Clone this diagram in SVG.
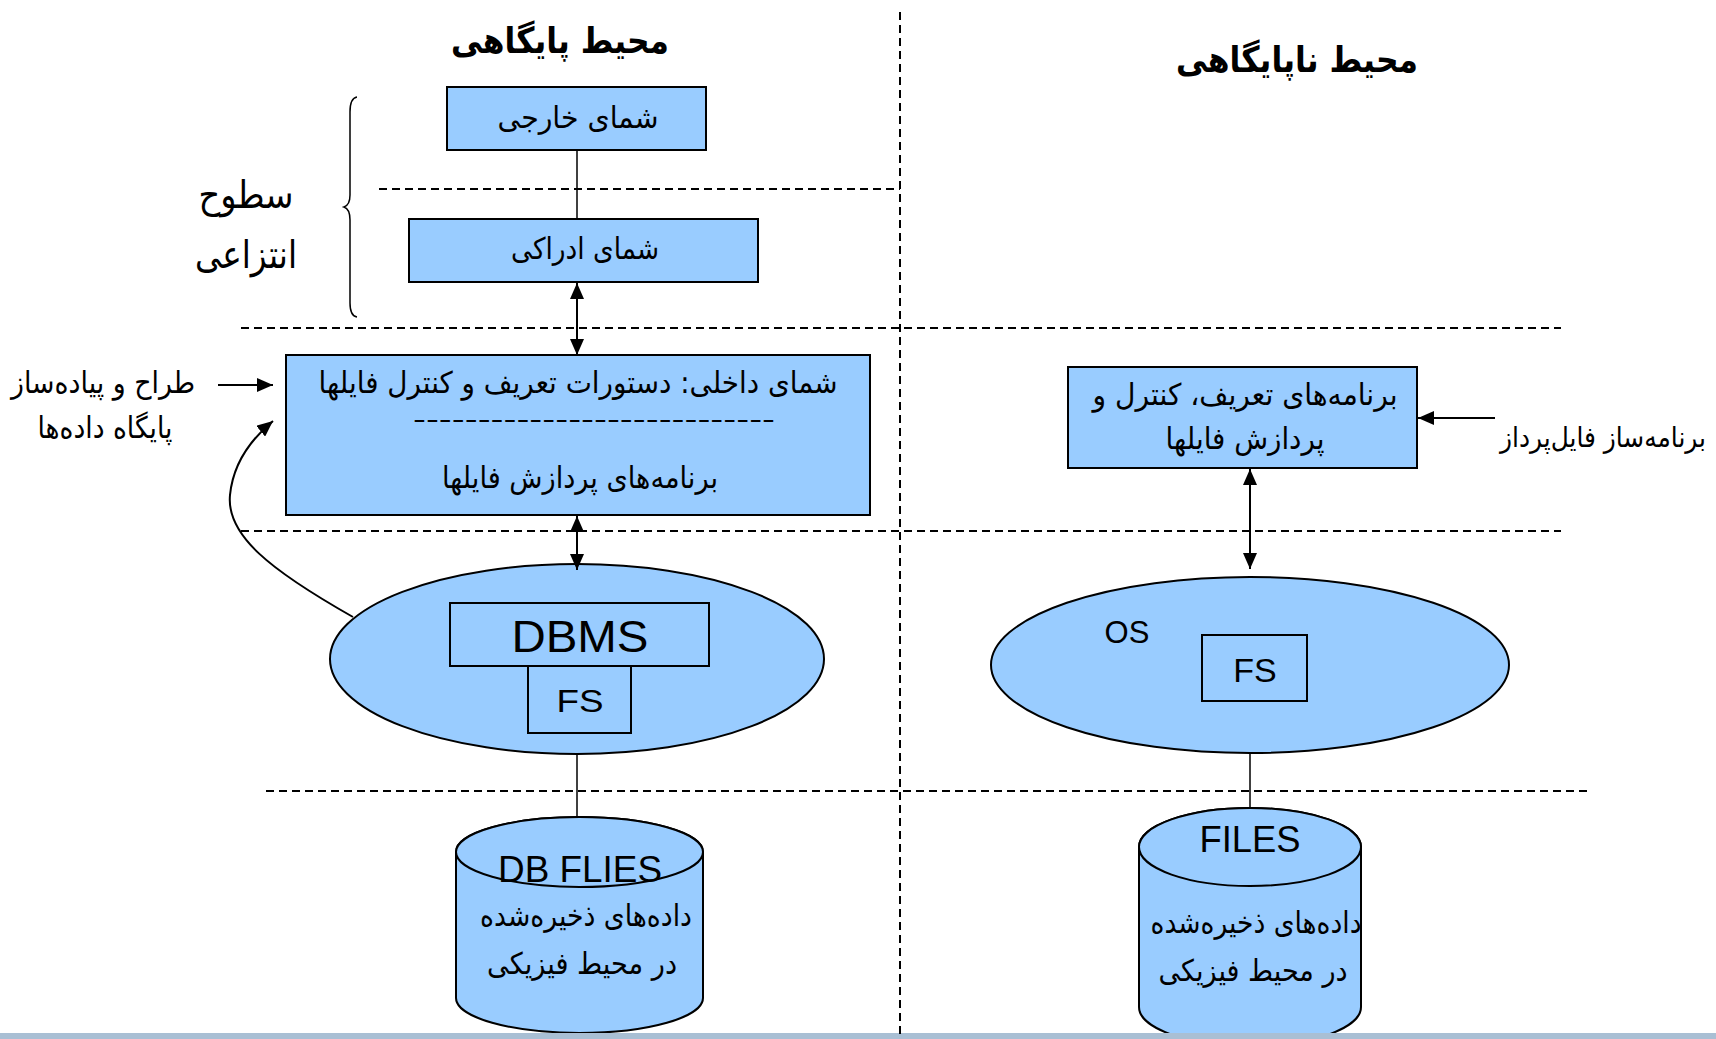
<svg xmlns="http://www.w3.org/2000/svg" width="1716" height="1039" viewBox="0 0 1716 1039">
  <style>
    .fa { font-family: "DejaVu Sans", "Noto Sans", sans-serif; fill: #000; text-anchor: middle; font-size: 30px; }
    .en { font-family: "Liberation Sans", Arial, sans-serif; fill: #000; text-anchor: middle; }
    .box { fill: #99CCFF; stroke: #000; stroke-width: 2; }
    .inner { fill: none; stroke: #000; stroke-width: 2; }
    .sep { fill: none; stroke: #000; stroke-width: 2; stroke-dasharray: 8 5; }
    .link { fill: none; stroke: #000; stroke-width: 1.5; }
    .arrow { fill: none; stroke: #000; stroke-width: 2; }
  </style>
  <defs>
    <marker id="head" viewBox="0 0 16 14" refX="16" refY="7" markerWidth="16" markerHeight="14" markerUnits="userSpaceOnUse" orient="auto-start-reverse">
      <path d="M0,0 L16,7 L0,14 Z" fill="#000"/>
    </marker>
  </defs>

  <rect width="1716" height="1039" fill="#fff"/>

  <!-- layer separators -->
  <g id="separators">
    <line class="sep" x1="379" y1="189" x2="900" y2="189"/>
    <line class="sep" x1="241" y1="328" x2="1561" y2="328"/>
    <line class="sep" x1="241" y1="531" x2="1561" y2="531"/>
    <line class="sep" x1="266" y1="791" x2="1588" y2="791"/>
  </g>

  <!-- column headings -->
  <g id="heading-db">
    <text class="fa" x="560" y="53" style="font-size:36px" font-weight="bold" direction="rtl" textLength="218" lengthAdjust="spacingAndGlyphs">محیط پایگاهی</text>
  </g>
  <g id="heading-nondb">
    <text class="fa" x="1297" y="72" style="font-size:36px" font-weight="bold" direction="rtl" textLength="242" lengthAdjust="spacingAndGlyphs">محیط ناپایگاهی</text>
  </g>

  <!-- abstraction levels brace and caption -->
  <g id="levels">
    <path class="link" d="M357,97 Q350,98 350,112 L350,195 Q350,205 344,207 Q350,209 350,220 L350,303 Q350,316 357,317"/>
    <text class="fa" x="246" y="208" style="font-size:38px" direction="rtl" textLength="95" lengthAdjust="spacingAndGlyphs">سطوح</text>
    <text class="fa" x="246" y="268" style="font-size:38px" direction="rtl" textLength="102" lengthAdjust="spacingAndGlyphs">انتزاعی</text>
  </g>

  <g id="external-schema">
    <rect class="box" x="447" y="87" width="259" height="63"/>
    <text class="fa" x="578" y="128" direction="rtl" textLength="161" lengthAdjust="spacingAndGlyphs">شمای خارجی</text>
  </g>

  <g id="conceptual-schema">
    <rect class="box" x="409" y="219" width="349" height="63"/>
    <text class="fa" x="585" y="259" direction="rtl" textLength="148" lengthAdjust="spacingAndGlyphs">شمای ادراکی</text>
  </g>

  <g id="internal-schema">
    <rect class="box" x="286" y="355" width="584" height="160"/>
    <text class="fa" x="578" y="393" direction="rtl" textLength="519" lengthAdjust="spacingAndGlyphs">شمای داخلی: دستورات تعریف و کنترل فایلها</text>
    <text class="fa" x="594" y="428" style="font-size:24px" textLength="362" lengthAdjust="spacingAndGlyphs">----------------------------</text>
    <text class="fa" x="580" y="488" direction="rtl" textLength="276" lengthAdjust="spacingAndGlyphs">برنامه‌های پردازش فایلها</text>
  </g>

  <g id="db-designer">
    <text class="fa" x="103" y="393" direction="rtl" textLength="184" lengthAdjust="spacingAndGlyphs">طراح و پیاده‌ساز</text>
    <text class="fa" x="105" y="438" direction="rtl" textLength="135" lengthAdjust="spacingAndGlyphs">پایگاه داده‌ها</text>
  </g>

  <g id="dbms">
    <ellipse class="box" cx="577" cy="659" rx="247" ry="95"/>
    <rect class="inner" x="450" y="603" width="259" height="63"/>
    <text class="en" x="580" y="652" font-size="44" textLength="137" lengthAdjust="spacingAndGlyphs">DBMS</text>
    <rect class="inner" x="528" y="666" width="103" height="67"/>
    <text class="en" x="580" y="712" font-size="32" textLength="47" lengthAdjust="spacingAndGlyphs">FS</text>
  </g>

  <g id="db-files">
    <path class="box" d="M456,852 A123.5,35 0 0 1 703,852 L703,998 A123.5,35 0 0 1 456,998 Z"/>
    <ellipse class="box" cx="579.5" cy="852" rx="123.5" ry="35"/>
    <text class="en" x="580" y="882" font-size="37" textLength="164" lengthAdjust="spacingAndGlyphs">DB FLIES</text>
    <text class="fa" x="586" y="926" direction="rtl" textLength="212" lengthAdjust="spacingAndGlyphs">داده‌های ذخیره‌شده</text>
    <text class="fa" x="582" y="974" direction="rtl" textLength="190" lengthAdjust="spacingAndGlyphs">در محیط فیزیکی</text>
  </g>

  <g id="file-programs">
    <rect class="box" x="1068" y="367" width="349" height="101"/>
    <text class="fa" x="1245" y="405" direction="rtl" textLength="305" lengthAdjust="spacingAndGlyphs">برنامه‌های تعریف، کنترل و</text>
    <text class="fa" x="1245" y="449" direction="rtl" textLength="159" lengthAdjust="spacingAndGlyphs">پردازش فایلها</text>
  </g>

  <g id="file-programmer">
    <text class="fa" transform="translate(1603,447) scale(1,1.4)" x="0" y="0" style="font-size:20px" direction="rtl" textLength="206" lengthAdjust="spacingAndGlyphs">برنامه‌ساز فایل‌پرداز</text>
  </g>

  <g id="os">
    <ellipse class="box" cx="1250" cy="665" rx="259" ry="88"/>
    <text class="en" x="1127" y="643" font-size="31">OS</text>
    <rect class="inner" x="1202" y="635" width="105" height="66"/>
    <text class="en" x="1255" y="682" font-size="34">FS</text>
  </g>

  <g id="files">
    <path class="box" d="M1139,847 A111,39 0 0 1 1361,847 L1361,1007 A111,39 0 0 1 1139,1007 Z"/>
    <ellipse class="box" cx="1250" cy="847" rx="111" ry="39"/>
    <text class="en" x="1250" y="852" font-size="37" textLength="101" lengthAdjust="spacingAndGlyphs">FILES</text>
    <text class="fa" x="1256" y="933" direction="rtl" textLength="211" lengthAdjust="spacingAndGlyphs">داده‌های ذخیره‌شده</text>
    <text class="fa" x="1253" y="981" direction="rtl" textLength="189" lengthAdjust="spacingAndGlyphs">در محیط فیزیکی</text>
  </g>

  <!-- connectors -->
  <g id="connectors">
    <line class="link" x1="577" y1="150" x2="577" y2="219"/>
    <line class="arrow" x1="577" y1="283" x2="577" y2="355" marker-start="url(#head)" marker-end="url(#head)"/>
    <line class="arrow" x1="218" y1="385" x2="273" y2="385" marker-end="url(#head)"/>
    <path class="arrow" d="M353,617 C270,570 226,535 230,495 C233,465 250,440 273,421" marker-end="url(#head)"/>
    <line class="arrow" x1="577" y1="516" x2="577" y2="570" marker-start="url(#head)" marker-end="url(#head)"/>
    <line class="link" x1="577" y1="754" x2="577" y2="817"/>
    <line class="arrow" x1="1250" y1="469" x2="1250" y2="569" marker-start="url(#head)" marker-end="url(#head)"/>
    <line class="arrow" x1="1495" y1="418" x2="1418" y2="418" marker-end="url(#head)"/>
    <line class="link" x1="1250" y1="753" x2="1250" y2="808"/>
  </g>

  <!-- footer strip and column divider -->
  <rect x="0" y="1033" width="1716" height="6" fill="#A9BFD4"/>
  <line class="sep" x1="900" y1="12" x2="900" y2="1039"/>
</svg>
